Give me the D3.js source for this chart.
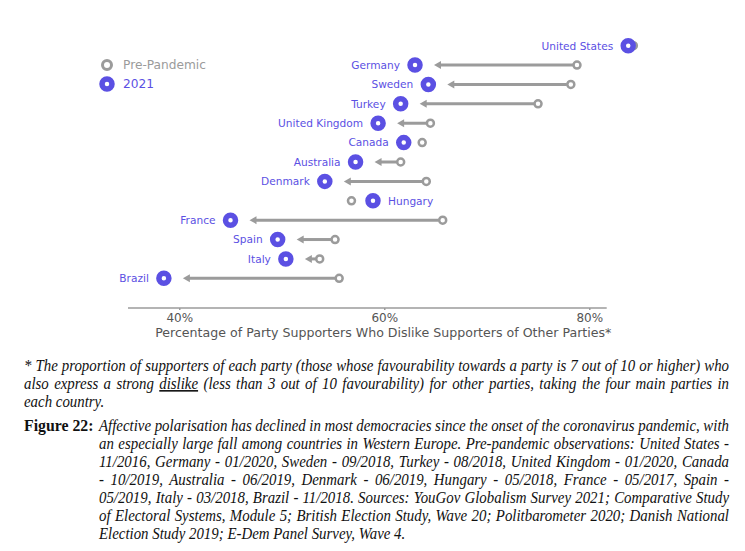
<!DOCTYPE html>
<html><head><meta charset="utf-8">
<script src="https://cdn.jsdelivr.net/npm/d3@7"></script>
<style>
html,body{margin:0;padding:0;background:#fff;}
svg{display:block;}
</style></head>
<body>
<script>
// ---- data ----
const countries = ["United States","Germany","Sweden","Turkey","United Kingdom","Canada","Australia","Denmark","Hungary","France","Spain","Italy","Brazil"];
const prePandemic = [84.3, 78.8, 78.2, 75.0, 64.5, 63.7, 61.6, 64.1, 56.8, 65.7, 55.2, 53.7, 55.6];
const value2021   = [83.8, 63.0, 64.3, 61.6, 59.4, 61.9, 57.2, 54.2, 58.9, 45.0, 49.6, 50.4, 38.5];
const xTicks = [40, 60, 80];
const xTickLabels = ["40%", "60%", "80%"];
const legendLabels = ["Pre-Pandemic", "2021"];
const axisTitle = "Percentage of Party Supporters Who Dislike Supporters of Other Parties*";
const footnoteLines = [
  ["* The proportion of supporters of each party (those whose favourability towards a party is 7 out of 10 or higher) who"],
  ["also express a strong ", "dislike", " (less than 3 out of 10 favourability) for other parties, taking the four main parties in"],
  ["each country."]
];
const figureLabel = "Figure 22:";
const captionLines = [
  "Affective polarisation has declined in most democracies since the onset of the coronavirus pandemic, with",
  "an especially large fall among countries in Western Europe. Pre-pandemic observations: United States -",
  "11/2016, Germany - 01/2020, Sweden - 09/2018, Turkey - 08/2018, United Kingdom - 01/2020, Canada",
  "- 10/2019, Australia - 06/2019, Denmark - 06/2019, Hungary - 05/2018, France - 05/2017, Spain -",
  "05/2019, Italy - 03/2018, Brazil - 11/2018. Sources: YouGov Globalism Survey 2021; Comparative Study",
  "of Electoral Systems, Module 5; British Election Study, Wave 20; Politbarometer 2020; Danish National",
  "Election Study 2019; E-Dem Panel Survey, Wave 4."
];

const data = countries.map((c,i)=>({country:c, pre:prePandemic[i], now:value2021[i]}));

const W = 745, H = 551;
const PURPLE = "#5b50e3", GREY = "#9b9b9b", SANS = "'DejaVu Sans', sans-serif";
const svg = d3.select("body").append("svg").attr("width", W).attr("height", H);

const x = d3.scaleLinear().domain([35, 81.7]).range([128, 606.7]);
const y = d3.scalePoint().domain(countries).range([45.7, 278.3]);

// axis
const axisG = svg.append("g").attr("transform", "translate(0,308)")
  .call(d3.axisBottom(x).tickValues(xTicks).tickFormat((d,i)=>xTickLabels[i]).tickSize(2).tickPadding(3));
axisG.select(".domain").attr("stroke", GREY).attr("stroke-width", 1.5).attr("d", `M${x.range()[0]},0H${x.range()[1]}`);
axisG.selectAll(".tick line").attr("stroke", GREY).attr("stroke-width", 1.5);
axisG.selectAll(".tick text").attr("fill", "#555").style("font-family", SANS).style("font-size", "12px");
svg.append("text").attr("x", x(60) - 1).attr("y", 337).attr("text-anchor", "middle")
  .attr("fill", "#555").style("font-family", SANS).style("font-size", "12.6px").text(axisTitle);

// arrows (pre -> 2021) where decline is large
const arrowData = data.filter(d => d.pre - d.now > 2.5);
const arrows = svg.append("g");
arrowData.forEach(d=>{
  const yy = y(d.country);
  const x0 = x(d.pre) - 4, tip = x(d.now) + 19;
  arrows.append("line").attr("x1", x0).attr("x2", tip + 5).attr("y1", yy).attr("y2", yy)
    .attr("stroke", GREY).attr("stroke-width", 3);
  arrows.append("path").attr("d", `M${tip},${yy}L${tip+7},${yy-4}L${tip+7},${yy+4}Z`).attr("fill", GREY);
});

// pre-pandemic dots
svg.append("g").selectAll("circle").data(data).join("circle")
  .attr("cx", d=>x(d.pre)).attr("cy", d=>y(d.country)).attr("r", 3.5)
  .attr("fill", "#fff").attr("stroke", GREY).attr("stroke-width", 2.5);
// 2021 dots
svg.append("g").selectAll("circle").data(data).join("circle")
  .attr("cx", d=>x(d.now)).attr("cy", d=>y(d.country)).attr("r", 5)
  .attr("fill", "#fff").attr("stroke", PURPLE).attr("stroke-width", 5.5);
// labels
svg.append("g").selectAll("text").data(data).join("text")
  .attr("x", d=> d.now > d.pre ? x(d.now) + 15 : x(d.now) - 15)
  .attr("y", d=>y(d.country)).attr("dy", "0.36em")
  .attr("text-anchor", d=> d.now > d.pre ? "start" : "end")
  .attr("fill", PURPLE).style("font-family", SANS).style("font-size", "10.6px")
  .text(d=>d.country);

// legend
const leg = svg.append("g");
leg.append("circle").attr("cx", 107).attr("cy", 65).attr("r", 4.5).attr("fill", "#fff").attr("stroke", GREY).attr("stroke-width", 3);
leg.append("circle").attr("cx", 107).attr("cy", 84).attr("r", 5).attr("fill", "#fff").attr("stroke", PURPLE).attr("stroke-width", 5.5);
leg.append("text").attr("x", 123).attr("y", 65).attr("dy", "0.36em").attr("fill", GREY).style("font-family", SANS).style("font-size", "12.2px").text(legendLabels[0]);
leg.append("text").attr("x", 123).attr("y", 84).attr("dy", "0.36em").attr("fill", PURPLE).style("font-family", SANS).style("font-size", "12.2px").text(legendLabels[1]);

// captions
const SERIF = "'Liberation Serif', serif";
const SX = 0.93, RIGHT = 729;
function capText(x0, y0){
  return svg.append("text").attr("transform", `translate(${x0},${y0}) scale(${SX},1)`)
    .style("font-family", SERIF).style("font-style", "italic").style("font-size", "16px").attr("fill", "#111");
}
function justify(t, target){
  const s = t.text(); const n = (s.match(/ /g)||[]).length;
  const len = t.node().getComputedTextLength();
  if (n > 0) t.attr("word-spacing", (target / SX - len)/n);
}
footnoteLines.forEach((parts, i)=>{
  const t = capText(24, 371 + i*18);
  parts.forEach((p, j)=>{
    const ts = t.append("tspan").text(p);
    if (parts.length === 3 && j === 1) ts.style("text-decoration", "underline");
  });
  if (i < footnoteLines.length - 1) justify(t, RIGHT - 24);
});
svg.append("text").attr("x", 24).attr("y", 431).style("font-family", SERIF).style("font-weight", "bold")
  .style("font-size", "15.8px").attr("fill", "#111").text(figureLabel);
captionLines.forEach((s, i)=>{
  const t = capText(99, 431 + i*18).text(s);
  if (i < captionLines.length - 1) justify(t, RIGHT - 99);
});
</script>
</body></html>
